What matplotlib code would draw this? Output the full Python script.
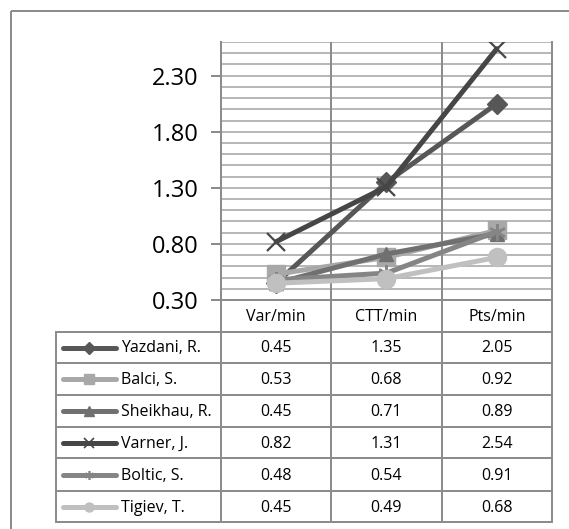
import matplotlib
matplotlib.use("Agg")
import matplotlib.pyplot as plt
from matplotlib.lines import Line2D
from matplotlib.patches import Rectangle
import numpy as np

plt.rcParams['font.family'] = ['Open Sans', 'DejaVu Sans']

categories = ['Var/min', 'CTT/min', 'Pts/min']
players = ['Yazdani, R.', 'Balci, S.', 'Sheikhau, R.', 'Varner, J.', 'Boltic, S.', 'Tigiev, T.']
yazdani = [0.45, 1.35, 2.05]
balci = [0.53, 0.68, 0.92]
sheikhau = [0.45, 0.71, 0.89]
varner = [0.82, 1.31, 2.54]
boltic = [0.48, 0.54, 0.91]
tigiev = [0.45, 0.49, 0.68]
series = [yazdani, balci, sheikhau, varner, boltic, tigiev]

colors = ['#575757', '#a8a8a8', '#707070', '#464646', '#858585', '#c0c0c0']
markers = ['D', 's', '^', 'x', (6, 2, 0), 'o']
msizes = [10, 13, 10, 13, 12, 13]

W, H = 569, 529
fig = plt.figure(figsize=(W / 100, H / 100), dpi=100)

# overlay in pixel coordinates for border and table
ov = fig.add_axes([0, 0, 1, 1], zorder=0)
ov.set_xlim(0, W)
ov.set_ylim(H, 0)
ov.axis('off')
ov.add_patch(Rectangle((11, 11), 600, 600, fill=False, ec='#8c8c8c', lw=1.44))

x0, x1 = 221, 552
ytop, ybot = 42, 300
ax = fig.add_axes([x0 / W, 1 - ybot / H, (x1 - x0) / W, (ybot - ytop) / H], zorder=2)
xs = np.arange(len(categories))
for vals, c, m, ms in zip(series, colors, markers, msizes):
    mew = 1.6 if m in ('x', (6, 2, 0)) else 1
    ax.plot(xs, vals, color=c, lw=3.6, marker=m, ms=ms, mfc=c, mec=c, mew=mew,
            solid_capstyle='round', zorder=3)

ax.set_xlim(-0.5, 2.5)
ax.set_ylim(0.30, 2.60)
major = np.round(np.arange(0.30, 2.31, 0.5), 2)
ax.set_yticks(major)
ax.set_yticklabels(['%.2f' % v for v in major])
for g in np.round(np.arange(0.40, 2.601, 0.1), 2):
    ax.axhline(g, color='#b8b8b8', lw=1.44, zorder=1)
ax.set_xticks([])
for v in [0.5, 1.5]:
    ax.axvline(v, color='#8c8c8c', lw=1.44, zorder=1)
ax.tick_params(axis='y', which='major', length=7, width=1.44, color='#8c8c8c',
               labelsize=17, pad=9)
for s in ['left', 'bottom', 'right']:
    ax.spines[s].set_color('#8c8c8c')
    ax.spines[s].set_linewidth(1.44)
ax.spines['top'].set_visible(False)

# data table
col_x = [56, 221, 331, 442, 552]
row_y = [300, 332, 363, 395, 427, 458, 491, 522]
lc = '#8c8c8c'
for i, cx in enumerate(col_x):
    top = row_y[1] if i == 0 else row_y[0]
    ov.plot([cx, cx], [top, row_y[-1]], color=lc, lw=1.44)
for ry in row_y[1:]:
    ov.plot([col_x[0], col_x[-1]], [ry, ry], color=lc, lw=1.44)

for j, cat in enumerate(categories):
    ov.text((col_x[j + 1] + col_x[j + 2]) / 2, (row_y[0] + row_y[1]) / 2 + 1, cat,
            ha='center', va='center', fontsize=11.5)

for i, (name, vals) in enumerate(zip(players, series)):
    yc = (row_y[i + 1] + row_y[i + 2]) / 2
    ov.add_line(Line2D([63, 116], [yc, yc], color=colors[i], lw=3.6,
                       solid_capstyle='round'))
    m = markers[i]
    mew = 1.2 if m in ('x', (6, 2, 0)) else 1
    ov.add_line(Line2D([89.5], [yc], marker=m, ms=6.5, color=colors[i], mec=colors[i],
                       mew=mew, ls='none'))
    ov.text(121, yc + 1, name, ha='left', va='center', fontsize=11.5)
    for j, v in enumerate(vals):
        ov.text((col_x[j + 1] + col_x[j + 2]) / 2, yc + 1, '%.2f' % v,
                ha='center', va='center', fontsize=11.5)

fig.savefig('out.png', dpi=100)
